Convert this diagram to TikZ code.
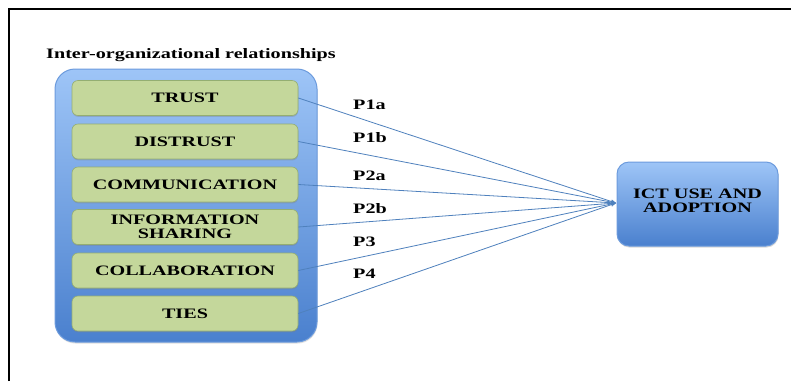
\documentclass[tikz,border=0pt]{standalone}
\usepackage{fontspec}
\setmainfont[FakeStretch=1.4]{Liberation Serif}
\usetikzlibrary{shadows,arrows.meta}
\definecolor{outerTop}{HTML}{9EC5F7}
\definecolor{outerBot}{HTML}{4A80CE}
\definecolor{outerLine}{HTML}{6C9BDD}
\definecolor{greenFill}{HTML}{C4D79B}
\definecolor{greenLine}{HTML}{94AE72}
\definecolor{linkBlue}{HTML}{4F81BD}
\tikzset{
  txt/.style={font=\fontsize{14.4}{14}\selectfont\bfseries, text=black},
  outerbox/.style={rounded corners=20pt, draw=outerLine, line width=1pt,
    top color=outerTop, bottom color=outerBot,
    minimum width=262pt, minimum height=273pt, inner sep=0pt},
  factor/.style={txt, rounded corners=6pt, draw=greenLine, fill=greenFill, line width=0.6pt,
    minimum width=226pt, minimum height=35pt, inner sep=0pt, align=center,
    drop shadow={shadow xshift=0.3pt, shadow yshift=-1.4pt, opacity=0.35}},
  targetbox/.style={rounded corners=12pt, draw=outerLine, line width=1pt,
    top color=outerTop, bottom color=outerBot,
    minimum width=161pt, minimum height=84pt, inner sep=0pt,
    drop shadow={shadow xshift=0.5pt, shadow yshift=-1.5pt, opacity=0.3}},
  link/.style={draw=linkBlue, line width=0.8pt, -{Stealth[length=5pt,width=4pt]}},
  plabel/.style={txt, anchor=west, inner sep=0pt}
}
\begin{document}
\begin{tikzpicture}[x=1pt,y=-1pt]
\useasboundingbox (0,0) rectangle (791,381);
\fill[white] (0,0) rectangle (791,381);
\draw[line width=2pt] (9,381) -- (9,9) -- (791,9);
\node[txt, anchor=base west, inner sep=0pt] (title) at (46,58) {Inter-organizational relationships};
\node[outerbox, drop shadow={shadow xshift=0.5pt, shadow yshift=-1.5pt, opacity=0.25}] (outer) at (186,205.5) {};
\node[factor] (trust) at (185,98) {TRUST};
\node[factor] (distrust) at (185,141.5) {DISTRUST};
\node[factor] (comm) at (185,184.5) {COMMUNICATION};
\node[factor] (info) at (185,227) {INFORMATION\\SHARING};
\node[factor] (collab) at (185,270.5) {COLLABORATION};
\node[factor] (ties) at (185,313.5) {TIES};
\node[targetbox] (ict) at (697.5,204) {};
\node[txt, align=center, inner sep=0pt] (icttext) at (697.5,201) {ICT USE AND\\ADOPTION};
\coordinate (tip) at (616,203);
\foreach \s in {trust,distrust,comm,info,collab,ties}
  \draw[link] (\s.east) -- (tip);
\node[plabel] (p1a) at (353,104.5) {P1a};
\node[plabel] (p1b) at (353,138) {P1b};
\node[plabel] (p2a) at (353,176) {P2a};
\node[plabel] (p2b) at (353,209) {P2b};
\node[plabel] (p3) at (353,242) {P3};
\node[plabel] (p4) at (353,274) {P4};
\end{tikzpicture}
\end{document}
